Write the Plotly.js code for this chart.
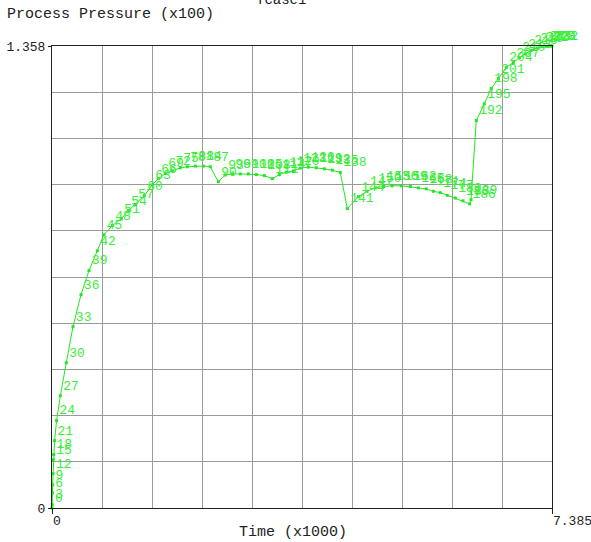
<!DOCTYPE html>
<html>
<head>
<meta charset="utf-8">
<script src="https://cdn.plot.ly/plotly-3.0.1.min.js"></script>
<style>
  html, body { margin: 0; padding: 0; background: #ffffff; }
  #chart { width: 591px; height: 542px; }
</style>
</head>
<body>
<div id="chart"></div>
<script>
// Point index labels (every third solver step, plus the last one)
const pointIds = [0,3,6,9,12,15,18,21,24,27,30,33,36,39,42,45,48,51,54,57,60,63,66,69,72,75,78,81,84,87,
  90,93,96,99,102,105,108,111,114,117,120,123,126,129,132,135,138,141,144,147,150,153,156,159,162,165,168,
  171,174,177,180,183,186,189,192,195,198,201,204,207,210,213,216,219,222,225,228,231,232];

// Time (x1000)
const timeK = [0.000,0.004,0.007,0.010,0.015,0.019,0.025,0.038,0.068,0.123,0.211,0.310,0.428,0.546,0.669,
  0.765,0.891,1.024,1.127,1.230,1.363,1.481,1.570,1.673,1.777,1.895,1.998,2.117,2.235,2.338,
  2.456,2.560,2.663,2.781,2.899,3.018,3.136,3.254,3.358,3.461,3.564,3.667,3.786,3.904,4.022,4.140,4.258,
  4.362,4.524,4.653,4.775,4.898,5.022,5.159,5.292,5.410,5.528,5.632,5.735,5.838,5.957,6.070,6.168,6.189,
  6.267,6.385,6.488,6.592,6.710,6.813,6.902,6.990,7.079,7.168,7.242,7.301,7.345,7.375,7.385];

// Process Pressure (x100)
const pressure = [0.000,0.010,0.045,0.068,0.101,0.142,0.157,0.198,0.257,0.330,0.427,0.533,0.627,0.698,0.756,
  0.803,0.830,0.850,0.874,0.892,0.918,0.950,0.968,0.983,0.991,1.000,1.003,1.005,1.005,1.003,
  0.959,0.979,0.982,0.982,0.982,0.980,0.977,0.968,0.980,0.987,0.991,0.999,1.002,1.000,0.997,0.993,0.986,
  0.880,0.915,0.931,0.941,0.945,0.947,0.947,0.945,0.941,0.938,0.931,0.927,0.919,0.911,0.903,0.894,0.906,
  1.139,1.188,1.233,1.262,1.295,1.309,1.324,1.335,1.345,1.352,1.356,1.357,1.358,1.358,1.358];

// Axis end labels
const xTickVals = [0, 7.385];
const xTickText = ['0', '7.385'];
const yTickVals = [0, 1.358];
const yTickText = ['0', '1.358'];

const chartTitle = 'Tcase1';
const xTitle = 'Time (x1000)';
const yTitle = 'Process Pressure (x100)';

const mono = 'Liberation Mono, Courier New, monospace';
const green = '#22e622';

const trace = {
  x: timeK,
  y: pressure,
  text: pointIds.map(String),
  mode: 'lines+markers+text',
  textposition: 'top right',
  textfont: { family: mono, size: 13, color: '#3cec3c' },
  line: { color: green, width: 1 },
  marker: { color: green, size: 3, symbol: 'square' },
  cliponaxis: false,
  hoverinfo: 'x+y'
};

const layout = {
  width: 591,
  height: 542,
  paper_bgcolor: '#ffffff',
  plot_bgcolor: '#ffffff',
  showlegend: false,
  margin: { l: 52, r: 39, t: 46, b: 34, pad: 0 },
  font: { family: mono, size: 13, color: '#222222' },
  xaxis: {
    range: [0, 7.385],
    tickmode: 'array',
    tickvals: xTickVals,
    ticktext: xTickText,
    ticks: 'outside',
    ticklen: 5,
    tickcolor: '#222',
    ticklabelposition: 'outside right',
    ticklabeloverflow: 'allow',
    tickfont: { family: mono, size: 13, color: '#222' },
    showgrid: false,
    zeroline: false,
    showline: true,
    linecolor: '#222',
    linewidth: 1,
    mirror: true,
    minor: { tickmode: 'linear', tick0: 0, dtick: 0.7385, showgrid: true, gridcolor: '#9a9a9a', gridwidth: 1, ticks: '' }
  },
  yaxis: {
    range: [0, 1.358],
    tickmode: 'array',
    tickvals: yTickVals,
    ticktext: yTickText,
    ticks: 'outside',
    ticklen: 3,
    tickcolor: '#222',
    ticklabeloverflow: 'allow',
    tickfont: { family: mono, size: 13, color: '#222' },
    showgrid: false,
    zeroline: false,
    showline: true,
    linecolor: '#222',
    linewidth: 1,
    mirror: true,
    minor: { tickmode: 'linear', tick0: 0, dtick: 0.1358, showgrid: true, gridcolor: '#9a9a9a', gridwidth: 1, ticks: '' }
  },
  annotations: [
    { text: chartTitle, xref: 'paper', yref: 'paper', x: 0.458, y: 1.1, xanchor: 'center', yanchor: 'middle',
      showarrow: false, font: { family: mono, size: 14, color: '#222' } },
    { text: yTitle, xref: 'paper', yref: 'paper', x: -0.095, y: 1.068, xanchor: 'left', yanchor: 'middle',
      showarrow: false, font: { family: mono, size: 15, color: '#222' } },
    { text: xTitle, xref: 'paper', yref: 'paper', x: 0.370, y: -0.054, xanchor: 'left', yanchor: 'middle',
      showarrow: false, font: { family: mono, size: 15, color: '#222' } }
  ]
};

Plotly.newPlot('chart', [trace], layout, { displayModeBar: false, staticPlot: true });
</script>
</body>
</html>
